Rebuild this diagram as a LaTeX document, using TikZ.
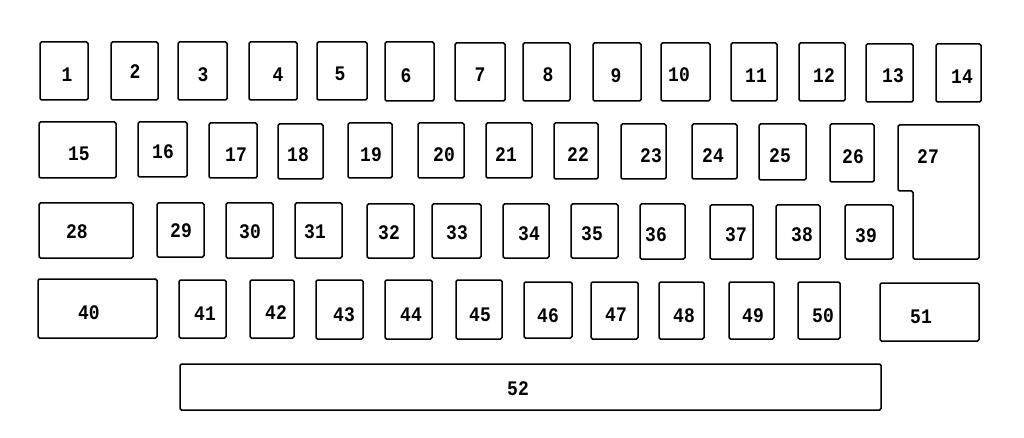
\documentclass[tikz,border=0pt]{standalone}
\usepackage{fontspec}
\newfontfamily\keyfont{Liberation Mono}
\begin{document}
\begin{tikzpicture}[x=1pt,y=-1pt,
  keybox/.style={draw=black,line width=1.5pt,rounded corners=1.5pt},
  keylab/.style={font=\keyfont\bfseries\fontsize{18}{18}\selectfont,inner sep=0pt,text=black,yscale=1.15}]
\useasboundingbox[fill=white] (0,0) rectangle (1024,438);
\foreach \xa/\ya/\xb/\yb/\t/\lx/\ly in {
 40/42/88/100/1/67/75, 111/42/158/100/2/135/72, 178/42/227/100/3/203/75,
 249/42/297/100/4/278/75, 317/42/367/100/5/340/74, 385/42/434/101/6/406/76,
 455/43/505/101/7/480/75, 523/43/570/101/8/548/75, 593/43/641/101/9/616/76,
 661/43/710/101/10/679/75, 731/43/777/101/11/756/76, 799/43/845/101/12/824/76,
 866/44/913/102/13/893/76, 936/44/981/102/14/962/77,
 39/122/116/178/15/79/154, 138/122/187/177/16/163/152, 209/123/257/178/17/236/155,
 278/124/323/179/18/298/155, 348/123/392/178/19/371/155, 418/123/464/178/20/444/155,
 486/123/532/178/21/506/155, 554/123/598/179/22/578/155, 621/124/666/179/23/651/156,
 692/124/737/179/24/713/156, 759/124/806/180/25/780/156, 830/124/874/182/26/853/157,
 39/203/133/258/28/77/232, 157/203/204/257/29/181/231, 226/203/273/258/30/250/232,
 295/203/342/258/31/315/232, 367/204/414/258/32/389/233, 432/204/481/258/33/457/233,
 503/204/549/258/34/529/234, 571/204/618/258/35/592/234, 640/204/685/259/36/656/235,
 710/205/753/259/37/736/235, 776/205/820/259/38/802/235, 845/205/893/259/39/866/236,
 38/279/157/338/40/89/313, 179/280/226/338/41/205/314, 250/280/294/338/42/276/313,
 316/280/363/339/43/344/315, 385/280/432/339/44/411/315, 456/280/502/339/45/480/315,
 524/282/572/338/46/548/316, 591/282/638/339/47/616/315, 659/282/704/339/48/684/316,
 729/282/774/339/49/753/316, 798/282/840/339/50/823/316, 880/283/979/341/51/921/317,
 180/364/881/410/52/518/389}
{
  \draw[keybox] (\xa,\ya) rectangle (\xb,\yb);
  \node[keylab] (k\t) at (\lx,\ly) {\t};
}
% key 27 (L-shaped)
\draw[keybox] (898,125) -- (898,191) -- (913,191) -- (913,259) -- (979,259) -- (979,125) -- cycle;
\node[keylab] (k27) at (928,157) {27};
\end{tikzpicture}
\end{document}
